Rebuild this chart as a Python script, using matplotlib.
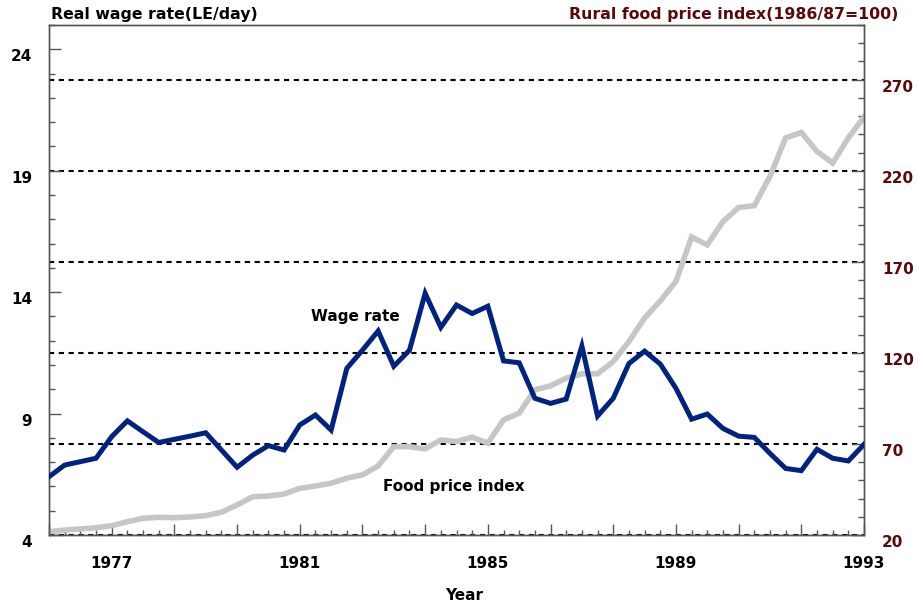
import numpy as np
import matplotlib
matplotlib.use("Agg")
import matplotlib.pyplot as plt
from matplotlib.ticker import FixedLocator, MultipleLocator
import matplotlib.transforms as mtransforms

# ---- data (three observations per year, 1975.67 .. 1993) ----
start_year = 1975 + 2 / 3
wage_rate = [6.40, 6.88, 7.02, 7.16, 8.05, 8.70, 8.25, 7.81, 7.94, 8.07,
             8.21, 7.50, 6.79, 7.29, 7.68, 7.50, 8.53, 8.94, 8.32, 10.86,
             11.61, 12.40, 10.95, 11.61, 13.95, 12.55, 13.47, 13.12, 13.42, 11.17,
             11.09, 9.63, 9.42, 9.60, 11.78, 8.90, 9.63, 11.06, 11.57, 11.04,
             10.04, 8.77, 8.98, 8.39, 8.07, 8.02, 7.36, 6.74, 6.65, 7.53,
             7.16, 7.05, 7.73]
food_price = [21.8, 22.7, 23.3, 24.0, 25.1, 27.3, 29.2, 29.7, 29.5, 29.9,
              30.6, 32.5, 36.5, 41.0, 41.4, 42.5, 45.6, 46.9, 48.4, 51.2,
              53.0, 57.9, 68.5, 68.5, 67.3, 72.2, 71.3, 73.7, 70.4, 83.2,
              86.9, 99.7, 101.9, 106.1, 108.5, 108.5, 115.2, 126.2, 139.1, 148.5,
              159.2, 183.6, 179.3, 192.1, 199.8, 200.8, 216.9, 238.0, 241.0, 230.6,
              224.2, 238.0, 249.5]
year_labels = [1977, 1981, 1985, 1989, 1993]
left_ticks = [4, 9, 14, 19, 24]
right_ticks = [20, 70, 120, 170, 220, 270]

years = start_year + np.arange(len(wage_rate)) / 3

NAVY = "#00237f"
GREY = "#c6c6c6"
MAROON = "#5a0808"
SPINE = "#555555"

plt.rcParams['font.family'] = ['DejaVu Sans']
fig = plt.figure(figsize=(9.18, 6.09), dpi=100)
ax2 = fig.add_axes([49/918, 1-535/609, (864-49)/918, (535-25)/609])
ax1 = ax2.twinx()
ax1.yaxis.tick_left()
ax2.yaxis.tick_right()
ax1.set_zorder(ax2.get_zorder() + 1)
ax1.patch.set_visible(False)

# right axis (food price)
ax2.set_ylim(20, 300)
ax2.set_xlim(years[0], years[-1])
for v in right_ticks:
    ax2.axhline(v, color="black", lw=1.5, ls=(0, (2.5, 2.2)), zorder=1,
                clip_on=(v != right_ticks[0]))
ax2.plot(years, food_price, color=GREY, lw=4.0, solid_joinstyle="miter", zorder=2)

# left axis (wage)
ax1.set_ylim(4, 25)
ax1.plot(years, wage_rate, color=NAVY, lw=3.6, solid_joinstyle="miter", zorder=3)

# x ticks
major_x = 1977 + np.arange(-1, 13) * 4 / 3
ax2.xaxis.set_major_locator(FixedLocator(major_x))
ax2.xaxis.set_minor_locator(MultipleLocator(1/3))
ax2.set_xticklabels([str(int(round(v))) if int(round(v)) in year_labels and abs(v - round(v)) < 1e-6 else "" for v in major_x])
ax2.tick_params(axis="x", which="major", direction="in", length=8, width=1, color=SPINE, pad=15,
                labelsize=11)
ax2.tick_params(axis="x", which="minor", direction="in", length=3.8, width=1, color=SPINE)
for lab in ax2.get_xticklabels():
    lab.set_fontweight("bold")

# y ticks left
ax1.yaxis.set_major_locator(FixedLocator(left_ticks))
ax1.yaxis.set_minor_locator(MultipleLocator(1))
ax1.tick_params(axis="y", which="major", direction="in", length=8.5, width=1, color=SPINE,
                pad=12, labelsize=11, labelcolor="black")
ax1.tick_params(axis="y", which="minor", direction="in", length=4.3, width=1, color=SPINE)
off = mtransforms.ScaledTranslation(0, -6/100, fig.dpi_scale_trans)
for lab in ax1.get_yticklabels():
    lab.set_fontweight("bold")
    lab.set_transform(lab.get_transform() + off)

# y ticks right
ax2.yaxis.set_major_locator(FixedLocator(right_ticks))
ax2.yaxis.set_minor_locator(MultipleLocator(10))
ax2.tick_params(axis="y", which="major", direction="in", length=8.5, width=1, color=SPINE,
                pad=13, labelsize=11, labelcolor=MAROON)
ax2.tick_params(axis="y", which="minor", direction="in", length=4.3, width=1, color=SPINE)
for lab in ax2.get_yticklabels():
    lab.set_fontweight("bold")
    lab.set_transform(lab.get_transform() + off)

for ax in (ax1, ax2):
    for s in ("left", "right", "top", "bottom"):
        ax.spines[s].set_color(SPINE)
        ax.spines[s].set_linewidth(1)

# texts
fig.text(51/918, 1-15/609, "Real wage rate(LE/day)", ha="left", va="center",
         fontsize=11.3, fontweight="bold", color="black")
fig.text(898/918, 1-14/609, "Rural food price index(1986/87=100)", ha="right", va="center",
         fontsize=11.3, fontweight="bold", color=MAROON)
fig.text(464/918, 1-596/609, "Year", ha="center", va="center", fontsize=11, fontweight="bold")
fig.text(355/918, 1-317/609, "Wage rate", ha="center", va="center", fontsize=11, fontweight="bold")
fig.text(454/918, 1-487/609, "Food price index", ha="center", va="center", fontsize=11, fontweight="bold")

fig.savefig("out.png", dpi=100)
